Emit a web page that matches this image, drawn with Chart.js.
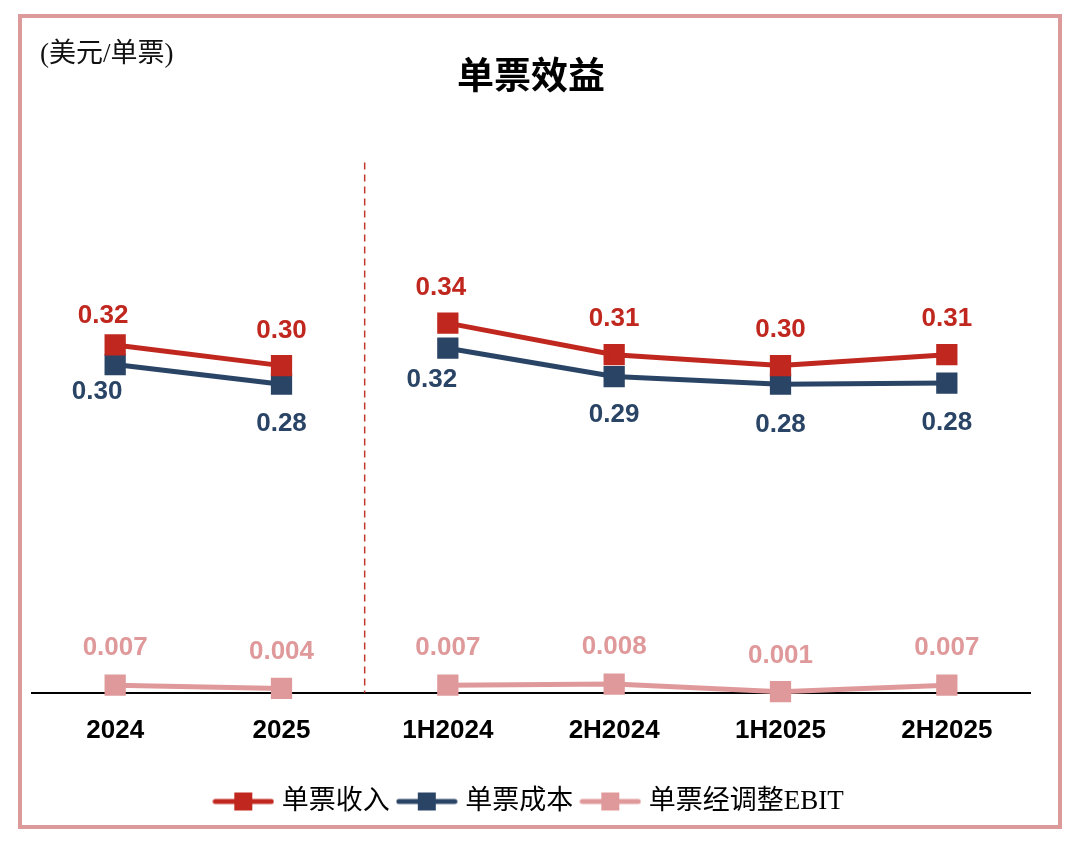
<!DOCTYPE html>
<html>
<head>
<meta charset="utf-8">
<script src="https://cdn.jsdelivr.net/npm/chart.js@4/dist/chart.umd.min.js"></script>
<style>
  html, body { margin: 0; padding: 0; background: #fff; }
  #wrap { position: relative; width: 1080px; height: 845px; }
  #frame { position: absolute; left: 18px; top: 14px; width: 1044px; height: 815px;
           box-sizing: border-box; border: 4px solid #dc9a9b; pointer-events: none; }
  canvas { position: absolute; left: 0; top: 0; }
</style>
</head>
<body>
<div id="wrap">
  <canvas id="chart" width="1080" height="845"></canvas>
  <div id="frame"></div>
</div>
<script>
// Per-ticket economics, annual then half-year
const categories = ['2024', '2025', '1H2024', '2H2024', '1H2025', '2H2025'];
const revenue = [0.319, 0.300, 0.339, 0.310, 0.300, 0.310];
const cost    = [0.301, 0.283, 0.316, 0.290, 0.283, 0.284];
const ebit    = [0.007, 0.004, 0.007, 0.008, 0.001, 0.007];

const RED = '#c0271e', NAVY = '#2a4466', PINK = '#e0999a';
const SANS = '"Liberation Sans", Arial, sans-serif';
const CJK = '"Liberation Serif", "Noto Sans CJK SC", serif';

// label nudges (px) relative to each marker
const labelShift = {
  0: [[-12,-29],[0,-35],[-7,-35],[0,-36],[0,-36],[0,-36]],
  1: [[-18,27],[0,40],[-16,32],[0,38],[0,41],[0,40]],
  2: [[0,-37],[0,-37],[0,-37],[0,-37],[0,-36],[0,-37]]
};

// legend swatch: line with square marker
function swatch(color) {
  const c = document.createElement('canvas');
  c.width = 62; c.height = 20;
  const g = c.getContext('2d');
  g.strokeStyle = color; g.lineWidth = 5; g.lineCap = 'round';
  g.beginPath(); g.moveTo(3, 10); g.lineTo(59, 10); g.stroke();
  g.fillStyle = color; g.fillRect(22, 1, 18, 18);
  return c;
}

// no line across the annual / half-year split
const gapAt = 1;
function series(label, data, color, digits) {
  return {
    label, data, digits,
    borderColor: color,
    backgroundColor: color,
    borderWidth: 5,
    pointStyle: 'rect',
    pointRadius: 11.5,
    pointBackgroundColor: color,
    pointBorderColor: color,
    tension: 0,
    clip: false,
    segment: { borderColor: ctx => ctx.p0DataIndex === gapAt ? 'transparent' : color }
  };
}

const extras = {
  id: 'extras',
  beforeDatasetsDraw(chart) {
    const { ctx, chartArea, scales } = chart;
    const x = (scales.x.getPixelForValue(gapAt) + scales.x.getPixelForValue(gapAt + 1)) / 2;
    ctx.save();
    ctx.strokeStyle = '#c0392b';
    ctx.lineWidth = 1.5;
    ctx.setLineDash([7, 5]);
    ctx.beginPath();
    ctx.moveTo(x, chartArea.top + 4);
    ctx.lineTo(x, chartArea.bottom);
    ctx.stroke();
    ctx.restore();
  },
  afterDatasetsDraw(chart) {
    const { ctx } = chart;
    ctx.save();
    ctx.font = 'bold 26px ' + SANS;
    ctx.textAlign = 'center';
    ctx.textBaseline = 'middle';
    chart.data.datasets.forEach((ds, di) => {
      const meta = chart.getDatasetMeta(di);
      ctx.fillStyle = ds.borderColor;
      meta.data.forEach((pt, i) => {
        const [dx, dy] = labelShift[di][i];
        ctx.fillText(ds.data[i].toFixed(ds.digits), pt.x + dx, pt.y + dy);
      });
    });
    // unit note
    ctx.fillStyle = '#111';
    ctx.font = '27px ' + CJK;
    ctx.textAlign = 'left';
    ctx.fillText('(美元/单票)', 40, 55);
    ctx.restore();
  }
};

new Chart(document.getElementById('chart'), {
  type: 'line',
  data: {
    labels: categories,
    datasets: [
      series('单票收入', revenue, RED, 2),
      series('单票成本', cost, NAVY, 2),
      series('单票经调整EBIT', ebit, PINK, 3)
    ]
  },
  options: {
    responsive: false,
    animation: false,
    layout: { padding: { left: 32, right: 50, top: 0, bottom: 20 } },
    plugins: {
      title: {
        display: true,
        text: '单票效益',
        color: '#000',
        font: { family: '"Noto Sans CJK SC", sans-serif', size: 37, weight: 'bold' },
        padding: { top: 53, bottom: 61 }
      },
      legend: {
        position: 'bottom',
        labels: {
          usePointStyle: true,
          pointStyleWidth: 50,
          padding: 12,
          color: '#000',
          font: { family: CJK, size: 27 },
          generateLabels(chart) {
            const items = Chart.defaults.plugins.legend.labels.generateLabels(chart);
            items.forEach(it => { it.pointStyle = swatch(chart.data.datasets[it.datasetIndex].borderColor); });
            return items;
          }
        }
      },
      tooltip: { enabled: false }
    },
    scales: {
      x: {
        offset: true,
        grid: { display: false, drawTicks: false },
        border: { display: true, color: '#000', width: 2 },
        ticks: { color: '#000', padding: 22, font: { family: SANS, size: 26, weight: 'bold' } },
        afterFit(scale) { scale.height += 8; }
      },
      y: { display: false, min: 0, max: 0.49 }
    }
  },
  plugins: [extras]
});
</script>
</body>
</html>
